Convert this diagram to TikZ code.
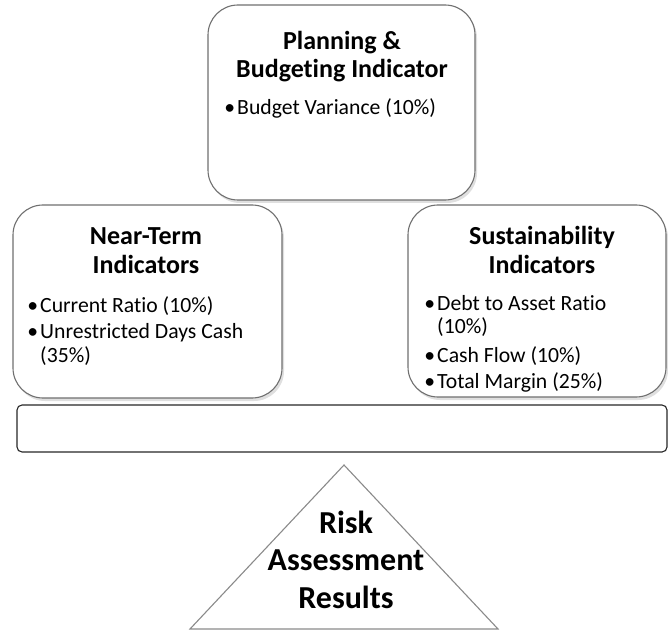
\documentclass[tikz,border=0pt]{standalone}
\usepackage{fontspec}
\setmainfont{Carlito}[Ligatures=NoCommon]
\usetikzlibrary{shadows}
\definecolor{panelgray}{HTML}{707070}
\definecolor{trigray}{HTML}{8A8A8A}
\newcommand{\bul}{\llap{\textbullet\hspace{2pt}}}
\tikzset{
  panel/.style={draw=panelgray, line width=1.1pt, fill=white, rounded corners=30pt,
    inner sep=0pt, drop shadow={shadow xshift=2pt, shadow yshift=-3pt, opacity=0.25}},
  head/.style={font=\fontsize{26}{30}\selectfont\bfseries, anchor=base, inner sep=0pt},
  item/.style={font=\fontsize{21.7}{26}\selectfont, anchor=base west, inner sep=0pt},
  big/.style={font=\fontsize{32}{38}\selectfont\bfseries, anchor=base, inner sep=0pt},
}
\begin{document}
\begin{tikzpicture}[x=1pt, y=1pt]
    \useasboundingbox (0,0) rectangle (668,630);

    % the three indicator groups
    \node[panel, minimum width=267pt, minimum height=195pt] (plan) at (341.5,527.5) {};
    \node[panel, minimum width=269pt, minimum height=193pt] (near) at (147.5,328.5) {};
    \node[panel, minimum width=258pt, minimum height=192pt] (sust) at (537,329) {};

    % the beam and the fulcrum
    \node[draw=black!85, line width=1.1pt, rounded corners=5pt, inner sep=0pt,
          minimum width=650pt, minimum height=47pt] (beam) at (342,201.5) {};
    \draw[trigray, line width=1.1pt] (344,165) -- (190,1) -- (498,1) -- cycle;

    \node[head] (planA) at (342,580) {Planning \&};
    \node[head] (planB) at (342,552) {Budgeting Indicator};
    \node[item] (plan1) at (237,515) {\bul Budget Variance (10\%)};

    \node[head] (nearA) at (146,385) {Near-Term};
    \node[head] (nearB) at (146,357) {Indicators};
    \node[item] (near1) at (40,318) {\bul Current Ratio (10\%)};
    \node[item] (near2) at (40,292) {\bul Unrestricted Days Cash};
    \node[item] (near3) at (40,268) {(35\%)};

    \node[head] (sustA) at (542,385) {Sustainability};
    \node[head] (sustB) at (542,357) {Indicators};
    \node[item] (sust1) at (437,320) {\bul Debt to Asset Ratio};
    \node[item] (sust2) at (437,297) {(10\%)};
    \node[item] (sust3) at (437,268) {\bul Cash Flow (10\%)};
    \node[item] (sust4) at (437,242) {\bul Total Margin (25\%)};

    \node[big] (riskA) at (346,97) {Risk};
    \node[big] (riskB) at (346,60) {Assessment};
    \node[big] (riskC) at (346,22) {Results};

\end{tikzpicture}
\end{document}
